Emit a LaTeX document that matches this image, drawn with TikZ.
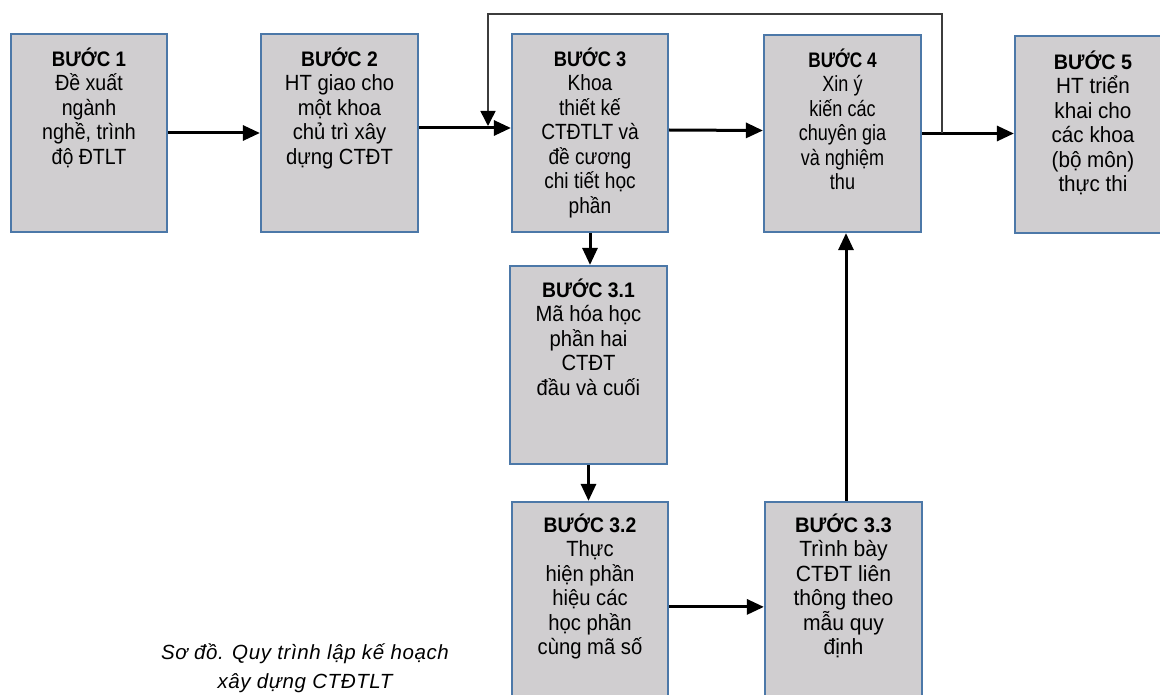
\documentclass[tikz,border=0pt]{standalone}
\usepackage{fontspec}
\setmainfont{Liberation Sans}
\newfontfamily\fA[FakeStretch=0.96]{Liberation Sans}
\newfontfamily\fB[FakeStretch=0.94]{Liberation Sans}
\newfontfamily\fC[FakeStretch=0.92]{Liberation Sans}
\newfontfamily\fD[FakeStretch=0.89]{Liberation Sans}
\newfontfamily\fE[FakeStretch=0.87]{Liberation Sans}
\newfontfamily\fF[FakeStretch=0.82]{Liberation Sans}
\usetikzlibrary{arrows.meta}
\definecolor{boxfill}{RGB}{208,206,208}
\definecolor{boxline}{RGB}{76,120,168}
\definecolor{fbgray}{RGB}{60,60,60}
\newcommand{\steptext}[3]{\parbox[t]{156pt}{\centering #1\fontsize{21}{24.5}\selectfont\textbf{#2}\\\fontsize{22}{24.5}\selectfont #3}}
\tikzset{
  stepbox/.style={draw=boxline, fill=boxfill, line width=2.2pt, rectangle, inner sep=0pt, minimum width=156pt, minimum height=198pt},
  txt/.style={anchor=base, inner sep=0pt},
  arr/.style={draw=black, line width=3pt, -{Triangle[length=17pt,width=15pt]}},
  fbline/.style={draw=fbgray, line width=1.5pt, -{Triangle[length=15pt,width=15pt,color=black]}}
}
\begin{document}
\begin{tikzpicture}[x=1pt,y=-1pt]
\useasboundingbox (0,0) rectangle (1160,695);
\clip (0,0) rectangle (1160,695);
% boxes
\node[stepbox] (b1) at (89,133) {};
\node[stepbox, minimum width=157pt] (b2) at (339.5,133) {};
\node[stepbox] (b3) at (590,133) {};
\node[stepbox, minimum width=157pt, minimum height=197pt] (b4) at (842.5,133.5) {};
\node[stepbox, minimum height=197pt] (b5) at (1093,134.5) {};
\node[stepbox, minimum width=157pt] (b31) at (588.5,365) {};
\node[stepbox] (b32) at (590,601) {};
\node[stepbox, minimum width=157pt] (b33) at (843.5,601) {};
% texts
\node[txt] (t1) at ([yshift=-33.5pt]b1.north) {\steptext{\fD}{BƯỚC 1}{Đề xuất\\ ngành\\ nghề, trình\\ độ ĐTLT}};
\node[txt] (t2) at ([yshift=-33.5pt]b2.north) {\steptext{\fC}{BƯỚC 2}{HT giao cho\\ một khoa\\ chủ trì xây\\ dựng CTĐT}};
\node[txt] (t3) at ([yshift=-33.5pt]b3.north) {\steptext{\fE}{BƯỚC 3}{Khoa\\ thiết kế\\ CTĐTLT và\\ đề cương\\ chi tiết học\\ phần}};
\node[txt] (t4) at ([yshift=-33.5pt]b4.north) {\steptext{\fF}{BƯỚC 4}{Xin ý\\ kiến các\\ chuyên gia\\ và nghiệm\\ thu}};
\node[txt] (t5) at ([yshift=-34.5pt]b5.north) {\steptext{\fB}{BƯỚC 5}{HT triển\\ khai cho\\ các khoa\\ (bộ môn)\\ thực thi}};
\node[txt] (t31) at ([yshift=-32.5pt]b31.north) {\steptext{\fC}{BƯỚC 3.1}{Mã hóa học\\ phần hai\\ CTĐT\\ đầu và cuối}};
\node[txt] (t32) at ([yshift=-31.5pt]b32.north) {\steptext{\fC}{BƯỚC 3.2}{Thực\\ hiện phần\\ hiệu các\\ học phần\\ cùng mã số}};
\node[txt] (t33) at ([yshift=-31.5pt]b33.north) {\steptext{\fA}{BƯỚC 3.3}{Trình bày\\ CTĐT liên\\ thông theo\\ mẫu quy\\ định}};
% caption
\node[txt] (cap) at (305,659) {\parbox[t]{400pt}{\centering\itshape\fontsize{20.5}{29}\selectfont\addfontfeature{LetterSpace=3}Sơ đồ. Quy trình lập kế hoạch\\ xây dựng CTĐTLT}};
% connectors
\draw[arr] (b1.east) -- (b2.west);
\draw[arr] ([yshift=5pt]b2.east) -- ([yshift=5pt]b3.west);
\draw[arr] ([yshift=3pt]b3.east) -- ([yshift=3pt]b4.west);
\draw[arr] (b4.east) -- (b4.east -| b5.west);
\draw[arr] (b3.south) -- (b3.south |- b31.north);
\draw[arr] (b31.south) -- (b31.south |- b32.north);
\coordinate (c32) at ([yshift=-106pt]b32.north east);
\draw[arr] (c32) -- (c32 -| b33.west);
\draw[arr] ([xshift=2.5pt]b33.north) -- ([xshift=2.5pt]b33.north |- b4.south);
% feedback
\coordinate (fa) at (942,133);
\coordinate (fb) at (488,126);
\draw[fbline] (fa) -- (942,14) -| (fb);
\end{tikzpicture}
\end{document}
